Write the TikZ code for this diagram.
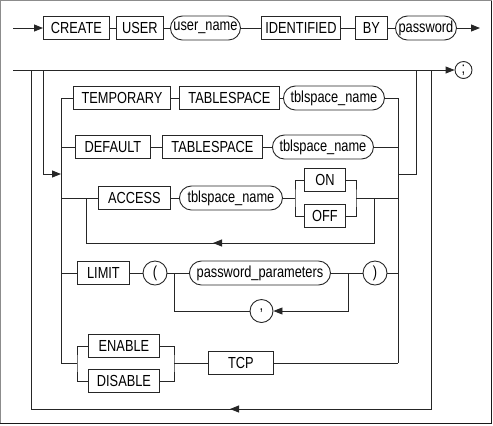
\documentclass[tikz,border=0pt]{standalone}
\usepackage{fontspec}
\setmainfont{Liberation Sans}[FakeStretch=0.8]
\usetikzlibrary{arrows.meta,shapes.misc}
\tikzset{
  ln/.style={draw=black!85,line width=0.9bp},
  arr/.style={ln,-{Triangle[length=9bp,width=7bp]}},
  kw/.style={ln,rectangle,minimum height=23bp,inner xsep=2bp,inner ysep=0bp,anchor=west,font=\fontsize{16bp}{18bp}\selectfont},
  ident/.style={ln,rounded rectangle,minimum height=24bp,inner xsep=2bp,inner ysep=0bp,anchor=west,font=\fontsize{16bp}{18bp}\selectfont},
  sym/.style={ln,circle,inner sep=0bp,font=\fontsize{16bp}{18bp}\selectfont},
}
\begin{document}
\begin{tikzpicture}[x=1bp,y=-1bp]
\useasboundingbox (0,0) rectangle (493,425);
% frame
\draw[draw=black!45,line width=1bp] (0.5,423.5) -- (0.5,0.5) -- (491.5,0.5);
\draw[draw=black!90,line width=1bp] (491.5,0.5) -- (491.5,423.5) -- (0.5,423.5);

% row 1
\coordinate (start) at (13,28);
\node[kw,minimum width=66bp] (create) at (43,28) {CREATE};
\node[kw,minimum width=47bp] (user) at (116,28) {USER};
\node[ident,minimum width=74bp] (uname) at (170,28) {user\_name};
\node[kw,minimum width=79bp] (identified) at (261,28) {IDENTIFIED};
\node[kw,minimum width=32bp] (by) at (355,28) {BY};
\node[ident,minimum width=65bp] (pwd) at (395,28) {password};
\coordinate (end1) at (480,28);
\draw[arr] (start) -- (create.west);
\draw[ln] (create.east) -- (user.west);
\draw[ln] (user.east) -- (uname.west);
\draw[ln] (uname.east) -- (identified.west);
\draw[ln] (identified.east) -- (by.west);
\draw[ln] (by.east) -- (pwd.west);
\draw[arr] (pwd.east) -- (end1);

% main line
\coordinate (ml) at (13,70);
\node[sym,minimum size=17bp] (semi) at (463.5,70) {;};
\draw[arr] (ml) -- (semi.west);

% outer loop
\coordinate (L1) at (31,70);
\coordinate (L1b) at (31,409);
\coordinate (R2) at (431,70);
\coordinate (R2b) at (431,409);
\draw[ln] (L1) -- (L1b) -- (R2b) -- (R2);
\coordinate (ba1) at (252,409);
\coordinate (ba2) at (230,409);
\draw[arr] (ba1) -- (ba2);

% inner branch
\coordinate (L2) at (43,70);
\coordinate (L2b) at (43,174);
\coordinate (O1) at (61,174);
\draw[arr] (L2) -- (L2b) -- (O1);
\coordinate (ot) at (61,98);
\coordinate (ob) at (61,363);
\draw[ln] (ot) -- (ob);
\coordinate (rt) at (398,98);
\coordinate (rb) at (398,363);
\draw[ln] (rt) -- (rb);
\coordinate (rm) at (398,174);
\coordinate (R1b) at (416,174);
\coordinate (R1) at (416,70);
\draw[ln] (rm) -- (R1b) -- (R1);

% TEMPORARY row
\node[kw,minimum width=97bp] (temp) at (73,98) {TEMPORARY};
\node[kw,minimum width=100bp] (ts1) at (179,98) {TABLESPACE};
\node[ident,minimum width=105bp] (tn1) at (283,98) {tblspace\_name};
\draw[ln] (ot) -- (temp.west);
\draw[ln] (temp.east) -- (ts1.west);
\draw[ln] (ts1.east) -- (tn1.west);
\draw[ln] (tn1.east) -- (rt);

% DEFAULT row
\node[kw,minimum width=75bp] (def) at (75,147) {DEFAULT};
\node[kw,minimum width=100bp] (ts2) at (162,147) {TABLESPACE};
\node[ident,minimum width=105bp] (tn2) at (272,147) {tblspace\_name};
\draw[ln] (def.west -| ot) -- (def.west);
\draw[ln] (def.east) -- (ts2.west);
\draw[ln] (ts2.east) -- (tn2.west);
\draw[ln] (tn2.east) -- (tn2.east -| rt);

% ACCESS row
\node[kw,minimum width=72bp] (acc) at (98,198) {ACCESS};
\node[ident,minimum width=107bp] (tn3) at (179,198) {tblspace\_name};
\node[kw,minimum width=41bp] (on) at (304,180) {ON};
\node[kw,minimum width=41bp] (off) at (304,216) {OFF};
\coordinate (ab) at (295,198);
\coordinate (am) at (356,198);
\draw[ln] (acc.west -| ot) -- (acc.west);
\draw[ln] (acc.east) -- (tn3.west);
\draw[ln] (tn3.east) -- (ab);
\draw[ln] (on.west) -| (ab) |- (off.west);
\draw[ln] (on.east) -| (am) |- (off.east);
\draw[ln] (am) -- (am -| rt);
\coordinate (al) at (86,198);
\coordinate (alb) at (86,243);
\coordinate (arb) at (374,243);
\coordinate (ar) at (374,198);
\draw[ln] (al) -- (alb) -- (arb) -- (ar);
\coordinate (aa1) at (235,243);
\coordinate (aa2) at (213,243);
\draw[arr] (aa1) -- (aa2);

% LIMIT row
\node[kw,minimum width=52bp] (lim) at (77,273) {LIMIT};
\node[sym,minimum size=24bp] (lp) at (155,273) {(};
\node[ident,minimum width=145bp] (pp) at (189,273) {password\_parameters};
\node[sym,minimum size=24bp] (rp) at (375,273) {)};
\node[sym,minimum size=23bp] (comma) at (261.5,311) {,};
\draw[ln] (lim.west -| ot) -- (lim.west);
\draw[ln] (lim.east) -- (lp.west);
\draw[ln] (lp.east) -- (pp.west);
\draw[ln] (pp.east) -- (rp.west);
\draw[ln] (rp.east) -- (rp.east -| rt);
\coordinate (pl) at (174,273);
\coordinate (plb) at (174,311);
\coordinate (pr) at (348,273);
\coordinate (prb) at (348,311);
\draw[ln] (pl) -- (plb) -- (comma.west);
\draw[arr] (pr) -- (prb) -- (comma.east);

% ENABLE / DISABLE row
\node[kw,minimum width=71bp] (en) at (88,346) {ENABLE};
\node[kw,minimum width=71bp] (dis) at (88,381) {DISABLE};
\node[kw,minimum width=65bp] (tcp) at (208,363) {TCP};
\coordinate (eb) at (77,363);
\coordinate (em) at (174,363);
\draw[ln] (ob) -- (eb);
\draw[ln] (en.west) -| (eb) |- (dis.west);
\draw[ln] (en.east) -| (em) |- (dis.east);
\draw[ln] (em) -- (tcp.west);
\draw[ln] (tcp.east) -- (rb);
\end{tikzpicture}
\end{document}
